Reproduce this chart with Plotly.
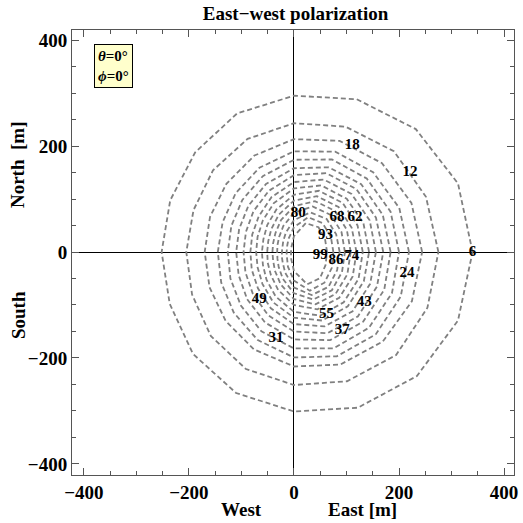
import numpy as np
import plotly.graph_objects as go

# Contour levels (inner to outer) and radii [m] read along 16 rays (0°=East, step 22.5° counter-clockwise)
levels = [99, 93, 86, 80, 74, 68, 62, 55, 49, 43, 37, 31, 24, 18, 12, 6]
ray_angles_deg = [0, 22.5, 45, 67.5, 90, 112.5, 135, 157.5, 180, 202.5, 225, 247.5, 270, 292.5, 315, 337.5]

r_99 = [63, 64, 66, 59, 30, 13, 8, 6, 6, 6, 8, 14, 36, 66, 70, 65]
r_93 = [75, 76, 77, 71, 47, 27, 18, 15, 14, 15, 19, 30, 54, 79, 82, 78]
r_86 = [87, 87, 88, 81, 60, 40, 29, 24, 23, 25, 30, 43, 67, 88, 93, 89]
r_80 = [97, 98, 99, 93, 74, 53, 40, 34, 32, 34, 41, 55, 78, 97, 102, 99]
r_74 = [108, 109, 110, 104, 86, 65, 50, 43, 41, 43, 51, 66, 89, 107, 112, 110]
r_68 = [119, 119, 120, 114, 97, 76, 61, 53, 51, 54, 62, 78, 100, 117, 122, 121]
r_62 = [131, 131, 131, 125, 108, 87, 72, 63, 61, 64, 74, 91, 113, 130, 134, 133]
r_55 = [143, 143, 142, 136, 120, 100, 84, 75, 72, 75, 85, 103, 124, 140, 145, 144]
r_49 = [156, 156, 155, 148, 132, 112, 95, 86, 83, 87, 97, 115, 136, 152, 158, 157]
r_43 = [170, 169, 168, 161, 145, 125, 109, 99, 96, 100, 111, 129, 150, 166, 172, 171]
r_37 = [184, 183, 181, 173, 158, 139, 123, 113, 110, 114, 126, 144, 165, 180, 186, 186]
r_31 = [200, 199, 196, 189, 174, 155, 139, 129, 126, 131, 143, 162, 182, 197, 202, 202]
r_24 = [219, 217, 213, 205, 190, 172, 157, 147, 145, 150, 162, 180, 199, 213, 220, 220]
r_18 = [244, 242, 237, 227, 213, 197, 182, 173, 170, 174, 184, 199, 216, 230, 239, 243]
r_12 = [275, 272, 269, 256, 243, 231, 218, 207, 205, 210, 224, 239, 251, 264, 275, 275]
r_6 = [340, 338, 328, 312, 295, 283, 266, 255, 252, 256, 272, 288, 301, 318, 331, 338]
radii = [r_99, r_93, r_86, r_80, r_74, r_68, r_62, r_55, r_49, r_43, r_37, r_31, r_24, r_18, r_12, r_6]

# Contour label positions [m]
lab_x = [50, 60, 80, 8, 110, 82, 116, 62, -66, 134, 92, -34, 215, 111, 221, 340]
lab_y = [-6, 32, -16, 74, -8, 66, 66, -117, -90, -94, -147, -162, -40, 202, 151, 0]

ang = np.deg2rad(np.array(ray_angles_deg + [ray_angles_deg[0]]))
fig = go.Figure()
for lv, rr in zip(levels, radii):
    r = np.array(rr + [rr[0]], dtype=float)
    fig.add_trace(go.Scatter(x=r * np.cos(ang), y=r * np.sin(ang), mode="lines",
                             line=dict(color="#808080", width=1.8, dash="5px,3px"),
                             hoverinfo="skip", showlegend=False))

fig.add_trace(go.Scatter(x=lab_x, y=lab_y, mode="text", text=[str(v) for v in levels],
                         textfont=dict(family="Liberation Serif", size=15, color="black", weight="bold"),
                         hoverinfo="skip", showlegend=False))

font = dict(family="Liberation Serif", size=19, color="black", weight="bold")
ax = dict(showgrid=False, zeroline=True, zerolinecolor="black", zerolinewidth=1,
          showline=True, linecolor="#555", linewidth=1, mirror="allticks",
          ticks="inside", ticklen=7, tickcolor="#555", dtick=200,
          minor=dict(ticks="inside", ticklen=4, dtick=50, tickcolor="#555"),
          tickfont=font, tickformat="d")
fig.update_layout(
    width=523, height=523, margin=dict(l=72, r=5, t=30, b=48),
    plot_bgcolor="white", paper_bgcolor="white",
    xaxis=dict(range=[-422.6, 418.9], **ax),
    yaxis=dict(range=[-420.8, 418.9], **ax),
    title=dict(text="East−west polarization", x=0.565, xanchor="center", y=0.987,
               font=dict(family="Liberation Serif", size=19, color="black", weight="bold")),
)
ann = dict(xref="paper", yref="paper", showarrow=False, xanchor="center", yanchor="middle",
           font=dict(family="Liberation Serif", size=19, color="black", weight="bold"))
fig.add_annotation(text="West", x=(243 - 72) / 446, y=-0.078, **ann)
fig.add_annotation(text="East [m]", x=(365 - 72) / 446, y=-0.078, **ann)
fig.add_annotation(text="North  [m]", x=-0.122, y=(475 - 165) / 445, textangle=-90, **ann)
fig.add_annotation(text="South", x=-0.122, y=(475 - 315) / 445, textangle=-90, **ann)
fig.add_annotation(text="<i>θ</i>=0°<br><i>ϕ</i>=0°", x=(94 - 72) / 446, y=(475 - 44) / 445,
                   xanchor="left", yanchor="top", bgcolor="#ffffcc", bordercolor="black",
                   borderwidth=1, borderpad=3, align="left", xref="paper", yref="paper",
                   showarrow=False, font=dict(family="Liberation Serif", size=15, color="black", weight="bold"))
fig.write_html("out.html")
